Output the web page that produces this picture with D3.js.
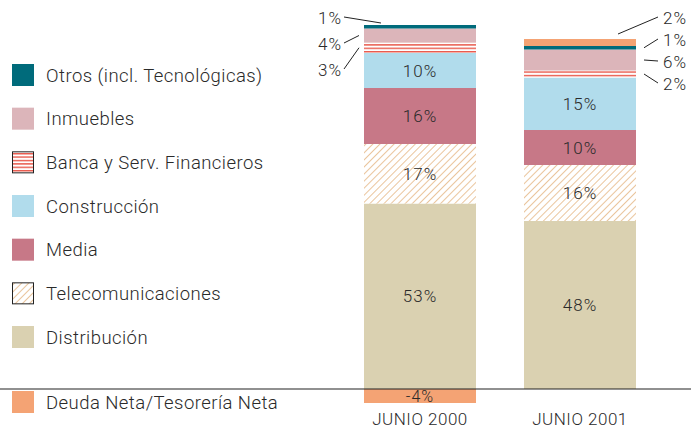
<!DOCTYPE html>
<html><head><meta charset="utf-8">
<script src="https://cdn.jsdelivr.net/npm/d3@7"></script>
<style>
body{margin:0;background:#fff;}
text{font-family:Roboto,"Liberation Sans",sans-serif;font-weight:300;fill:#2a2a2a;}
</style></head>
<body><svg id="c" width="691" height="430"></svg>
<script>
// ---- data ----
const periods = ["JUNIO 2000", "JUNIO 2001"];
const sectors = ["Distribución","Telecomunicaciones","Media","Construcción","Banca y Serv. Financieros","Inmuebles","Otros (incl. Tecnológicas)","Deuda Neta/Tesorería Neta"];
const legendOrder = ["Otros (incl. Tecnológicas)","Inmuebles","Banca y Serv. Financieros","Construcción","Media","Telecomunicaciones","Distribución","Deuda Neta/Tesorería Neta"];
const values2000 = [53, 17, 16, 10, 3, 4, 1, -4];
const values2001 = [48, 16, 10, 15, 2, 6, 1, 2];
const outsideLabels = ["Banca y Serv. Financieros","Inmuebles","Otros (incl. Tecnológicas)","Deuda Neta/Tesorería Neta"];

const fills = {
  "Distribución":"#dad1b1",
  "Telecomunicaciones":"url(#hatch)",
  "Media":"#c77887",
  "Construcción":"#b1dcec",
  "Banca y Serv. Financieros":"url(#stripes)",
  "Inmuebles":"#dcb5ba",
  "Otros (incl. Tecnológicas)":"#006b7b",
  "Deuda Neta/Tesorería Neta":"#f4a374"
};

const svg = d3.select("#c");
const defs = svg.append("defs");
const hp = defs.append("pattern").attr("id","hatch").attr("patternUnits","userSpaceOnUse")
  .attr("width",5).attr("height",5).attr("patternTransform","rotate(45)");
hp.append("rect").attr("width",5).attr("height",5).attr("fill","#fff");
hp.append("line").attr("x1",0).attr("y1",0).attr("x2",0).attr("y2",5).attr("stroke","#e4b27c").attr("stroke-width",1.5);
const sp = defs.append("pattern").attr("id","stripes").attr("patternUnits","userSpaceOnUse")
  .attr("width",10).attr("height",3.4);
sp.append("rect").attr("width",10).attr("height",3.4).attr("fill","#fff");
sp.append("rect").attr("width",10).attr("height",1.4).attr("fill","#e8574a");

const baseY = 389;
const y = d3.scaleLinear().domain([0,100]).range([baseY, baseY-350]);
const x = d3.scaleBand().domain(periods).range([340,660]).paddingInner(0.3).paddingOuter(0.15);

const FS = 17;
const data = [values2000, values2001];
periods.forEach((p,pi)=>{
  const vals = data[pi];
  let pos = 0, neg = 0;
  const segs = [];
  sectors.forEach((s,si)=>{
    const v = vals[si];
    let y0, y1;
    if (v >= 0){ y0 = pos; y1 = pos + v; pos = y1; }
    else { y0 = neg + v; y1 = neg; neg = y0; }
    segs.push({s, v, y0, y1});
  });
  const g = svg.append("g");
  g.selectAll("rect").data(segs).join("rect")
    .attr("x", x(p)).attr("width", x.bandwidth())
    .attr("y", d=>y(d.y1)).attr("height", d=>y(d.y0)-y(d.y1))
    .attr("fill", d=>fills[d.s]);
  // inside labels
  g.selectAll("text.in").data(segs.filter(d=>!outsideLabels.includes(d.s) || d.v<0)).join("text")
    .attr("class","in")
    .attr("x", x(p)+x.bandwidth()/2)
    .attr("y", d=>(y(d.y0)+y(d.y1))/2 + 6)
    .attr("text-anchor","middle").attr("font-size",d=>d.v<0?16:FS).attr("letter-spacing",1)
    .text(d=>d.v+"%");
  // outside labels
  const out = segs.filter(d=>outsideLabels.includes(d.s) && d.v>0)
    .sort((a,b)=>b.y1-a.y1);
  const centers = out.map(d=>(y(d.y0)+y(d.y1))/2);
  const mean = d3.mean(centers) - 6;
  const gap = out.length>3 ? 22 : 26;
  let ly = out.map((d,i)=>mean + (i-(out.length-1)/2)*gap);
  const shift = Math.max(0, 18 - ly[0]);
  ly = ly.map(v=>v+shift);
  const left = pi===0;
  const barL = x(p), barR = x(p)+x.bandwidth();
  const barTop = y(segs.reduce((m,d)=>Math.max(m,d.y1),0));
  out.forEach((d,i)=>{
    const tx = left ? barL-22 : barR+27;
    g.append("text").attr("x", tx).attr("y", ly[i]+6)
      .attr("text-anchor", left?"end":"start").attr("font-size",FS).attr("letter-spacing",1)
      .text(d.v+"%");
    let sx, sy;
    if (i===0){ sx = left ? barL+17 : barR-18; sy = left ? barTop-2 : barTop-5; }
    else { sx = left ? barL-5 : barR+8; sy = centers[i]; }
    const ex = left ? barL-20 : barR+22;
    g.append("line").attr("x1", sx).attr("y1", sy)
      .attr("x2", ex).attr("y2", ly[i]-1)
      .attr("stroke","#222").attr("stroke-width",1);
  });
  // category label
  svg.append("text").attr("x", x(p)+x.bandwidth()/2).attr("y", 425)
    .attr("text-anchor","middle").attr("font-size",17).attr("letter-spacing",0.5).text(p);
});

// baseline
svg.append("line").attr("x1",0).attr("x2",691).attr("y1",baseY).attr("y2",baseY)
  .attr("stroke","#222").attr("stroke-width",1.2);

// legend
const legY = d3.scalePoint().domain(legendOrder.slice(0,7)).range([75,337]);
const lg = svg.append("g");
legendOrder.forEach((s,i)=>{
  const cy = i<7 ? legY(s) : 402;
  const bordered = s==="Banca y Serv. Financieros" || s==="Telecomunicaciones";
  lg.append("rect").attr("x", bordered?12.5:12).attr("y", cy-11+(bordered?0.5:0))
    .attr("width", bordered?21:22).attr("height", bordered?21:22)
    .attr("fill", fills[s]).attr("stroke", bordered?"#222":"none").attr("stroke-width",1);
  lg.append("text").attr("x",46).attr("y",cy+6.5).attr("font-size",18.5).attr("letter-spacing",0.45).text(s);
});
</script></body></html>
